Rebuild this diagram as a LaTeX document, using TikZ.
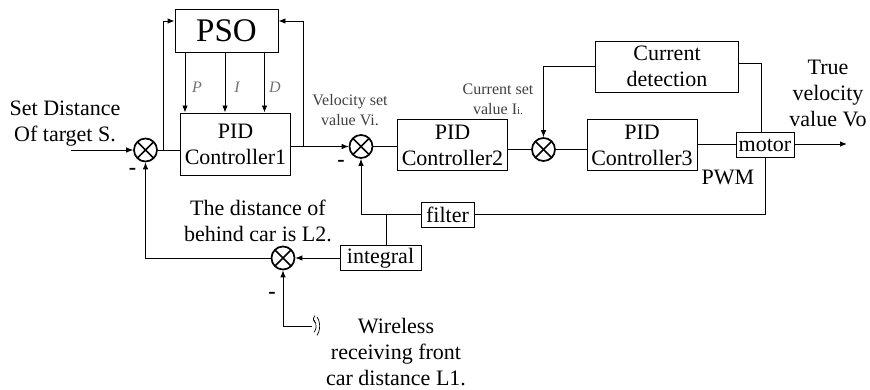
\documentclass[tikz,border=0pt]{standalone}
\usepackage{fontspec}
\setmainfont{Liberation Serif}
\usetikzlibrary{arrows.meta}
\tikzset{
    lbl/.style={inner sep=0pt, align=center, font=\fontsize{22}{26}\selectfont},
    small/.style={inner sep=0pt, align=center, font=\fontsize{16}{20}\selectfont, text=black!75},
    gain/.style={inner sep=0pt, font=\fontsize{16}{16}\selectfont\itshape, text=black!55},
    minus/.style={inner sep=0pt, font=\fontsize{22}{22}\selectfont\bfseries},
    box/.style={draw, line width=0.9pt, inner sep=0pt, align=center, font=\fontsize{22}{26}\selectfont},
    sumnode/.style={draw, circle, line width=1.7pt, minimum size=23pt, inner sep=0pt,
        path picture={
            \draw[line width=1.7pt] (path picture bounding box.north west) -- (path picture bounding box.south east);
            \draw[line width=1.7pt] (path picture bounding box.north east) -- (path picture bounding box.south west);
        }},
    arr/.style={-{Latex[length=7pt,width=5.5pt]}, line width=0.9pt},
    wire/.style={line width=0.9pt}
}
\begin{document}
\begin{tikzpicture}[x=1pt, y=-1pt]
    \useasboundingbox (0,0) rectangle (870,390);

    % blocks
    \node[box, minimum width=103pt, minimum height=43pt, font=\fontsize{33}{33}\selectfont] (pso) at (226.5,31) {PSO};
    \node[box, minimum width=110pt, minimum height=62pt] (pid1) at (235.5,144) {PID\\Controller1};
    \node[box, minimum width=110pt, minimum height=51pt] (pid2) at (452.5,145) {PID\\Controller2};
    \node[box, minimum width=110pt, minimum height=51pt] (pid3) at (642,145) {PID\\Controller3};
    \node[box, minimum width=143pt, minimum height=51pt] (detect) at (667,66.5) {Current\\detection};
    \node[box, minimum width=58pt, minimum height=25pt] (motor) at (765,145) {motor};
    \node[box, minimum width=53pt, minimum height=25pt] (filter) at (447.5,214.5) {filter};
    \node[box, minimum width=81pt, minimum height=25pt] (integral) at (380.5,258) {integral};

    % summing points
    \node[sumnode] (sum1) at (145.5,150) {};
    \node[sumnode] (sum2) at (361,146.5) {};
    \node[sumnode] (sum3) at (543.5,149.5) {};
    \node[sumnode] (sum4) at (283,258) {};

    % free ends
    \coordinate (input) at (71,150);
    \coordinate (output) at (847,144);
    \coordinate (ptap) at (185,52);
    \coordinate (itap) at (225,52);
    \coordinate (dtap) at (264.5,52);
    \coordinate (left) at (163,21);
    \coordinate (right) at (303,21);
    \coordinate (back) at (361,214.5);
    \coordinate (split) at (386.5,214.5);
    \coordinate (sense) at (761.5,63);
    \coordinate (wireless) at (312,326);

    % forward path
    \draw[arr] (input) -- (sum1);
    \draw[wire] (sum1) -- (pid1.west |- sum1);
    \draw[arr] (pid1.east |- sum2) -- (sum2);
    \draw[wire] (sum2) -- (pid2.west |- sum2);
    \draw[wire] (pid2.east |- sum3) -- (sum3);
    \draw[wire] (sum3) -- (pid3.west |- sum3);
    \draw[wire] (pid3.east |- output) -- (motor.west |- output);
    \draw[arr] (motor.east |- output) -- (output);

    % PSO
    \draw[arr] (left |- sum1) -- (left) -- (pso.west |- left);
    \draw[arr] (right |- sum2) -- (right) -- (pso.east |- right);
    \draw[arr] (ptap) -- (pid1.north -| ptap);
    \draw[arr] (itap) -- (pid1.north -| itap);
    \draw[arr] (dtap) -- (pid1.north -| dtap);

    % feedback
    \draw[wire] (detect.east |- sense) -- (sense) -- (motor.north -| sense);
    \draw[arr] (detect.west) -| (sum3);
    \draw[wire] (motor.south) |- (filter.east);
    \draw[arr] (filter.west) -- (back) -- (sum2);
    \draw[wire] (split) -- (integral.north -| split);
    \draw[arr] (integral.west) -- (sum4);
    \draw[arr] (sum4) -| (sum1);
    \draw[arr] (wireless) -| (sum4);

    % antenna
    \draw[line width=0.7pt] (wireless) ++(3,-3.5) arc (-50:50:-4.5 and -4.5);
    \draw[line width=0.7pt] (314,320) arc (-50:50:6 and 8);
    \draw[line width=0.7pt] (317,317) arc (-50:50:7.5 and 12);

    % labels
    \node[lbl] (setlabel) at (65,123.5) {Set Distance\\Of target S.};
    \node[lbl] (truelabel) at (828,93) {True\\velocity\\value Vo};
    \node[lbl] (pwmlabel) at (728,177) {PWM};
    \node[lbl] (behindlabel) at (258,220.5) {The distance of\\behind car is L2.};
    \node[lbl] (frontlabel) at (396,352) {Wireless\\receiving front\\car distance L1.};
    \node[small] (velocitylabel) at (350,110.5) {Velocity set\\value Vi.};
    \node[small] (currentlabel) at (498,99) {Current set\\value I{\fontsize{11}{11}\selectfont i.}};
    \node[gain] (plabel) at (197,87) {P};
    \node[gain] (ilabel) at (237,87) {I};
    \node[gain] (dlabel) at (275,87) {D};
    \node[minus] (minus1) at (132.5,171) {-};
    \node[minus] (minus2) at (341,163) {-};
    \node[minus] (minus3) at (272,295) {-};
\end{tikzpicture}
\end{document}
